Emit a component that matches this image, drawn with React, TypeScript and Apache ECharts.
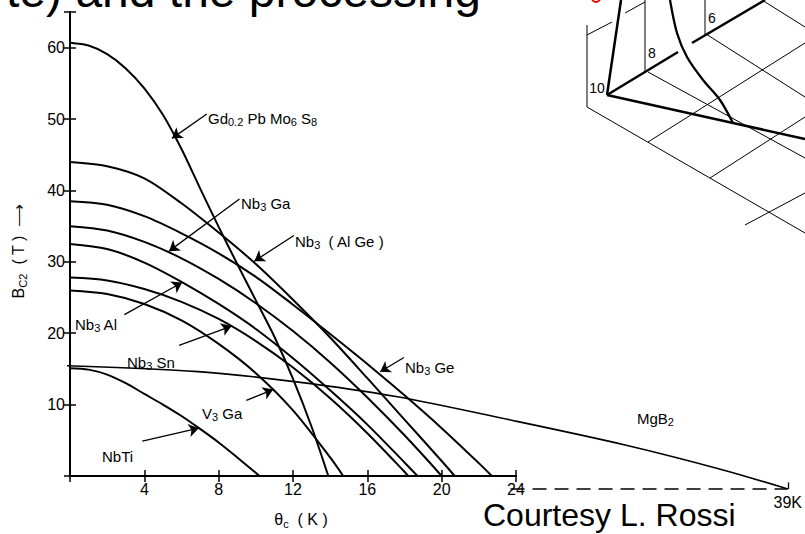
import React, { useEffect, useRef } from "react";
import * as echarts from "echarts";

// ---- data ----
const xTickLabels = [4, 8, 12, 16, 20, 24];
const yTickLabels = [10, 20, 30, 40, 50, 60];

const gdT = [0, 1, 2, 3, 4, 5, 6, 7, 8, 9, 10, 11, 12, 13, 13.9];
const gdB = [60.7, 60.3, 59.1, 57.1, 54.3, 50.6, 45.8, 40.3, 34.9, 29.7, 24.6, 19.5, 13.6, 6.9, 0];

const alGeT = [0, 2, 4, 6, 8, 10, 12, 14, 16, 18, 20, 20.7];
const alGeB = [44.0, 43.4, 41.7, 38.2, 34.1, 29.7, 24.7, 19.4, 13.7, 7.9, 2.1, 0];

const geT = [0, 2, 4, 6, 8, 10, 12, 14, 16, 18, 20, 22, 22.7];
const geB = [38.5, 38.0, 36.4, 34.0, 31.2, 27.9, 24.0, 19.9, 15.7, 11.3, 6.7, 1.8, 0];

const gaT = [0, 2, 4, 6, 8, 10, 12, 14, 16, 18, 20];
const gaB = [35.0, 34.4, 32.8, 30.5, 27.6, 24.2, 20.3, 15.9, 11.0, 5.7, 0];

const alT = [0, 2, 4, 6, 8, 10, 12, 14, 16, 18, 18.7];
const alB = [32.5, 31.8, 29.9, 27.2, 24.1, 20.6, 16.5, 12.0, 7.2, 1.9, 0];

const snT = [0, 2, 4, 6, 8, 10, 12, 14, 16, 18, 18.2];
const snB = [27.8, 27.4, 26.2, 24.4, 22.0, 18.9, 15.2, 10.9, 6.0, 0.6, 0];

const v3gaT = [0, 2, 4, 6, 8, 10, 12, 14, 14.7];
const v3gaB = [26.0, 25.5, 24.1, 21.8, 18.5, 14.4, 9.2, 2.6, 0];

const nbtiT = [0, 1, 2, 3, 4, 5, 6, 7, 8, 9, 10.2];
const nbtiB = [15.1, 14.9, 14.2, 13.0, 11.5, 10.0, 8.4, 6.6, 4.7, 2.6, 0];

const mgb2T = [0, 7.1, 12.4, 17.8, 24, 30.2, 35.5, 39];
const mgb2B = [16.8, 16.0, 14.6, 12.6, 9.4, 6.0, 2.6, 0];

// arrows: label end (T, B) -> curve end (T, B)
const arrowFromT = [7.36, 9.12, 12.05, 2.93, 5.87, 9.49, 3.89, 17.97];
const arrowFromB = [50.7, 38.8, 33.7, 22.6, 18.3, 10.6, 4.9, 16.6];
const arrowToT = [5.49, 5.33, 9.92, 6.03, 8.69, 10.93, 6.93, 16.69];
const arrowToB = [47.3, 31.5, 30.1, 27.1, 21.0, 12.1, 6.7, 14.6];

const curveLabels = [
  "Gd{s|0.2} Pb Mo{s|6} S{s|8}",
  "Nb{s|3} Ga",
  "Nb{s|3}  ( Al Ge )",
  "Nb{s|3} Al",
  "Nb{s|3} Sn",
  "V{s|3} Ga",
  "NbTi",
  "Nb{s|3} Ge",
  "MgB{s|2}",
];

const FONT = "'Liberation Sans', Arial, sans-serif";

function zip(t: number[], b: number[]) {
  return t.map((v, i) => [v, b[i]]);
}

export default function App() {
  const ref = useRef<HTMLDivElement>(null);
  useEffect(() => {
    if (!ref.current) return;
    const chart = echarts.init(ref.current, undefined, { renderer: "svg" });
    const rich = {
      s: { fontSize: 11, lineHeight: 11, verticalAlign: "bottom", fontFamily: FONT, fill: "#000", color: "#000" },
    };
    const axisLine = { show: true, lineStyle: { color: "#000", width: 1.8 } };
    const tick = { show: true, inside: true, length: 6, lineStyle: { color: "#000", width: 1.5 } };
    const lineBase = {
      type: "line",
      xAxisIndex: 0,
      yAxisIndex: 0,
      showSymbol: false,
      symbol: "none",
      smooth: 0.3,
      lineStyle: { color: "#000", width: 2 },
      silent: true,
    };
    const curves = [
      [gdT, gdB],
      [alGeT, alGeB],
      [geT, geB],
      [gaT, gaB],
      [alT, alB],
      [snT, snB],
      [v3gaT, v3gaB],
      [nbtiT, nbtiB],
    ];
    const series: any[] = curves.map((c, i) => ({
      ...lineBase,
      name: "c" + i,
      data: zip(c[0], c[1]),
      ...(i === 0
        ? {
            markLine: {
              silent: true,
              symbol: ["none", "arrow"],
              symbolSize: 10,
              label: { show: false },
              lineStyle: { color: "#000", width: 1.3, type: "solid" },
              data: arrowFromT.map((t, k) => [
                { coord: [t, arrowFromB[k]] },
                { coord: [arrowToT[k], arrowToB[k]] },
              ]),
            },
          }
        : {}),
    }));
    series.push({
      ...lineBase,
      name: "MgB2",
      xAxisIndex: 2,
      yAxisIndex: 2,
      data: zip(mgb2T, mgb2B),
      lineStyle: { color: "#000", width: 1.6 },
      markLine: {
        silent: true,
        symbol: ["none", "none"],
        label: { show: false },
        data: [
          [
            { coord: [24, 0], lineStyle: { color: "#000", width: 1.5, type: [14, 8] } },
            { coord: [39, 0] },
          ],
          [
            { coord: [39, 0], lineStyle: { color: "#000", width: 1.3, type: "solid" } },
            { coord: [39, 0.9] },
          ],
        ],
      },
    });

    const labelPos = [
      [208, 118],
      [241, 203],
      [295, 241],
      [75, 324],
      [127, 362],
      [202, 413],
      [102, 456],
      [405, 367],
      [637, 418],
    ];
    const graphic: any[] = curveLabels.map((txt, i) => ({
      type: "text",
      x: labelPos[i][0],
      y: labelPos[i][1],
      silent: true,
      style: {
        text: txt,
        fontSize: 15,
        lineHeight: 19,
        fontFamily: FONT,
        fill: "#000",
        align: "left",
        textAlign: "left",
        verticalAlign: "middle",
        textVerticalAlign: "middle",
        rich,
      },
    }));

    // slide title fragment and credit
    graphic.push({
      type: "text",
      x: 481,
      y: -10,
      silent: true,
      style: {
        text: "te) and the processing",
        fontSize: 48,
        fontFamily: FONT,
        fill: "#000",
        align: "right",
        textAlign: "right",
        verticalAlign: "middle",
        textVerticalAlign: "middle",
      },
    });
    graphic.push({
      type: "text",
      x: 483,
      y: 515,
      silent: true,
      style: {
        text: "Courtesy L. Rossi",
        fontSize: 32,
        fontFamily: FONT,
        fill: "#000",
        align: "left",
        textAlign: "left",
        verticalAlign: "middle",
        textVerticalAlign: "middle",
      },
    });

    // 3D sketch fragment (upper right)
    const seg = (x1: number, y1: number, x2: number, y2: number, w: number) => ({
      type: "line",
      silent: true,
      shape: { x1, y1, x2, y2 },
      style: { stroke: "#000", lineWidth: w },
    });
    const small = (text: string, x: number, y: number) => ({
      type: "text",
      x,
      y,
      silent: true,
      style: { text, fontSize: 14, fontFamily: FONT, fill: "#000", align: "center", textAlign: "center", verticalAlign: "middle", textVerticalAlign: "middle" },
    });
    graphic.push(
      seg(607, 95, 621, 0, 2.5),
      seg(607, 95, 678, 52, 2.5),
      seg(692, 43, 765, 0, 2.5),
      seg(607, 95, 733, 123, 2.5),
      seg(733, 123, 805, 139, 2.5),
      seg(587, 25, 587, 107, 1),
      seg(645, 0, 645, 72, 1),
      seg(705, 0, 705, 35, 1),
      seg(587, 35, 612, 22, 1),
      seg(625, 13, 645, 2, 1),
      seg(587, 107, 805, 233, 1),
      seg(648, 72, 805, 158, 1),
      seg(706, 34, 805, 97, 1),
      seg(762, 0, 805, 27, 1),
      seg(648, 142, 805, 43, 1),
      seg(710, 178, 805, 117, 1),
      seg(745, 225, 805, 193, 1),
      {
        type: "polyline",
        silent: true,
        shape: {
          points: [
            [670, 0],
            [677, 33],
            [687, 57],
            [703, 80],
            [720, 100],
            [733, 123],
          ],
          smooth: 0.3,
        },
        style: { stroke: "#000", lineWidth: 2.3, fill: null },
      },
      small("10", 597, 88),
      small("8", 652, 53),
      small("6", 712, 18),
      {
        type: "arc",
        silent: true,
        shape: { cx: 596, cy: -2, r: 4, startAngle: 0, endAngle: Math.PI },
        style: { stroke: "#e00", lineWidth: 2, fill: null },
      }
    );

    const fmtX = (v: number) => (xTickLabels.includes(v) ? String(v) : "");
    const fmtY = (v: number) => (yTickLabels.includes(v) ? String(v) : "");
    const tickLabel = { color: "#000", fontSize: 16, fontFamily: FONT };

    chart.setOption({
      animation: false,
      backgroundColor: "#fff",
      grid: [
        { left: 67, top: 12, width: 449, height: 477 },
        { left: 67, top: 12, width: 729, height: 477 },
      ],
      xAxis: [
        {
          type: "value",
          gridIndex: 0,
          position: "bottom",
          min: 0,
          max: 24,
          interval: 4,
          axisLine,
          axisTick: tick,
          splitLine: { show: false },
          axisLabel: { ...tickLabel, margin: 5, formatter: fmtX },
          name: "θ{s|c}  ( K )",
          nameLocation: "middle",
          nameGap: 33,
          nameTextStyle: { color: "#000", fontSize: 16, lineHeight: 20, fontFamily: FONT, padding: [0, 0, 0, 16], rich },
        },
        {
          type: "value",
          gridIndex: 0,
          position: "top",
          min: 0,
          max: 24,
          interval: 4,
          axisLine,
          axisTick: tick,
          splitLine: { show: false },
          axisLabel: { show: false },
        },
        {
          type: "value",
          gridIndex: 1,
          min: 0,
          max: 39,
          interval: 39,
          axisLine: { show: false },
          axisTick: { show: false },
          splitLine: { show: false },
          axisLabel: { ...tickLabel, margin: 5, formatter: (v: number) => (v === 39 ? "39K" : "") },
        },
      ],
      yAxis: [
        {
          type: "value",
          gridIndex: 0,
          position: "left",
          min: 0,
          max: 65,
          interval: 10,
          axisLine,
          axisTick: tick,
          splitLine: { show: false },
          axisLabel: { ...tickLabel, margin: 5, formatter: fmtY },
          name: "B{s|C2}  ( T )  ⟶",
          nameLocation: "middle",
          nameRotate: 90,
          nameGap: 42,
          nameTextStyle: { color: "#000", fontSize: 16, lineHeight: 20, fontFamily: FONT, padding: [0, 14, 0, 0], rich },
        },
        {
          type: "value",
          gridIndex: 0,
          position: "right",
          min: 0,
          max: 65,
          interval: 10,
          axisLine,
          axisTick: tick,
          splitLine: { show: false },
          axisLabel: { show: false },
        },
        {
          type: "value",
          gridIndex: 1,
          min: 0,
          max: 65,
          show: false,
        },
      ],
      series,
      graphic,
    });
    return () => chart.dispose();
  }, []);
  return (
    <div
      ref={ref}
      style={{ position: "fixed", left: 0, top: 0, width: 805, height: 534, background: "#fff" }}
    />
  );
}
